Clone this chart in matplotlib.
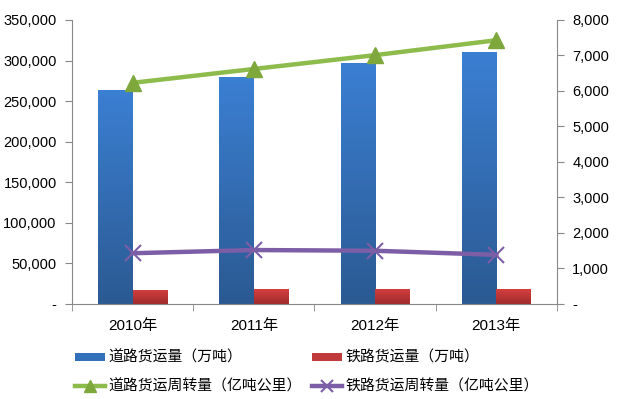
import numpy as np
import matplotlib.pyplot as plt
from matplotlib.ticker import FuncFormatter
from matplotlib.lines import Line2D
from matplotlib.patches import Patch
from matplotlib.colors import LinearSegmentedColormap

plt.rcParams['font.family'] = ['Liberation Sans', 'Noto Sans CJK SC', 'DejaVu Sans']

years = ['2010年', '2011年', '2012年', '2013年']
road_freight = [264000, 279500, 296500, 311000]      # 万吨
rail_freight = [17300, 18100, 18900, 18200]          # 万吨
road_turnover = [6230, 6620, 7010, 7430]             # 亿吨公里
rail_turnover = [1430, 1520, 1500, 1385]             # 亿吨公里

labels = ['道路货运量（万吨）', '铁路货运量（万吨）',
          '道路货运周转量（亿吨公里）', '铁路货运周转量（亿吨公里）']


def thousands(v, pos):
    return '-' if v == 0 else f'{int(v):,}'


def gradient_bars(ax, bars, top, bottom):
    cmap = LinearSegmentedColormap.from_list('g', [bottom, top])
    grad = np.linspace(0, 1, 64).reshape(-1, 1)
    for b in bars:
        x, y, w, h = b.get_x(), b.get_y(), b.get_width(), b.get_height()
        im = ax.imshow(grad, cmap=cmap, aspect='auto', origin='lower',
                       extent=(x, x + w, y, y + h), zorder=2)
        im.set_clip_path(b)
        b.set_facecolor('none')


fig = plt.figure(figsize=(6.17, 3.99), dpi=100)
ax = fig.add_axes([0.1167, 0.2381, 0.786, 0.7118])
x = np.arange(len(years))
w = 0.285

b1 = ax.bar(x - w / 2, road_freight, w, color='#3575c2', linewidth=0, zorder=2)
b2 = ax.bar(x + w / 2, rail_freight, w, color='#c0393b', linewidth=0, zorder=2)
gradient_bars(ax, b1, '#3b7fd2', '#2b5a93')
gradient_bars(ax, b2, '#d43f3f', '#a12b2c')

ax.set_xlim(-0.5, len(years) - 0.5)
ax.set_ylim(0, 350000)
ax.set_yticks(np.arange(0, 350001, 50000))
ax.yaxis.set_major_formatter(FuncFormatter(thousands))
ax.set_xticks(x)
ax.set_xticklabels(years)
ax.set_xticks(np.arange(-0.5, len(years), 1), minor=True)
ax.tick_params(axis='x', which='major', length=0, pad=11, labelsize=11)
ax.tick_params(axis='x', which='minor', length=5, color='#888888')
ax.tick_params(axis='y', length=5, color='#888888', labelsize=10.5, pad=6)

ax2 = ax.twinx()
ax2.plot(x, road_turnover, color='#8dbb4c', lw=3.2, marker='^', ms=11,
         mfc='#7ea83c', mec='#7ea83c', zorder=3)
ax2.plot(x, rail_turnover, color='#7c5ea6', lw=3.2, marker='x', ms=11,
         mew=1.5, mec='#7c5ea6', zorder=3)
ax2.set_ylim(0, 8000)
ax2.set_yticks(np.arange(0, 8001, 1000))
ax2.yaxis.set_major_formatter(FuncFormatter(thousands))
ax2.tick_params(axis='y', length=5, color='#888888', labelsize=10.5, pad=6)

for a in (ax, ax2):
    a.spines['top'].set_visible(False)
    for s in ('left', 'right', 'bottom'):
        a.spines[s].set_color('#888888')
ax.spines['right'].set_visible(False)
ax2.spines['left'].set_visible(False)
ax2.spines['bottom'].set_visible(False)

handles = [Patch(facecolor='#3370ba'),
           Line2D([], [], color='#8dbb4c', lw=3.2, marker='^', ms=8,
                  mfc='#7ea83c', mec='#7ea83c'),
           Patch(facecolor='#c0393b'),
           Line2D([], [], color='#7c5ea6', lw=3.2, marker='x', ms=8, mew=1.5)]
order = [labels[0], labels[2], labels[1], labels[3]]
fig.legend(handles, order, ncol=2, loc='upper left',
           bbox_to_anchor=(0.112, 0.136), frameon=False, fontsize=10.7,
           handlelength=2.0, handleheight=0.5, handletextpad=0.27,
           columnspacing=0.68, labelspacing=0.96, borderaxespad=0)

fig.savefig('out.png', dpi=100)
